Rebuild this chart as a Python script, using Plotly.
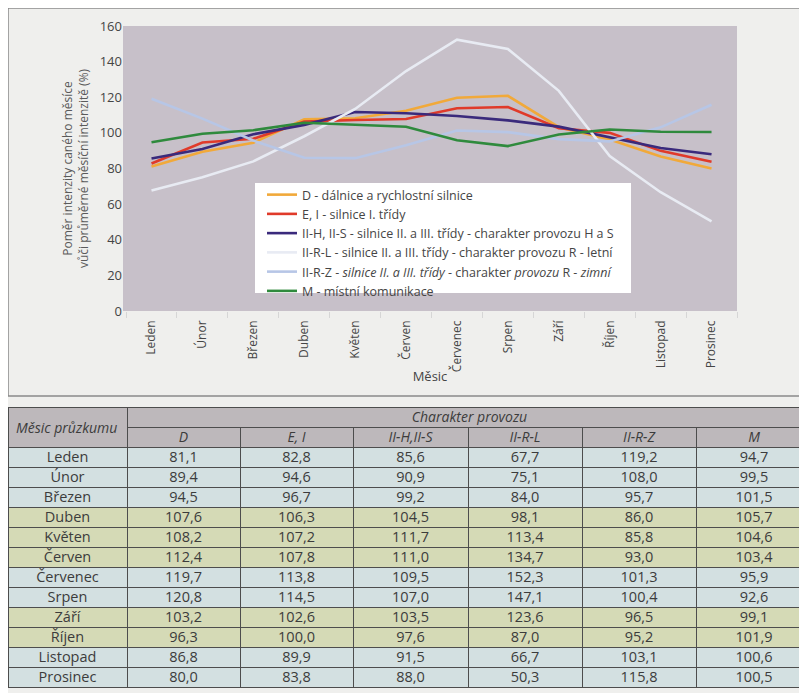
import plotly.graph_objects as go

W, H = 807, 693

months = ["Leden", "Únor", "Březen", "Duben", "Květen", "Červen",
          "Červenec", "Srpen", "Září", "Říjen", "Listopad", "Prosinec"]

D_vals = [81.1, 89.4, 94.5, 107.6, 108.2, 112.4, 119.7, 120.8, 103.2, 96.3, 86.8, 80.0]
EI_vals = [82.8, 94.6, 96.7, 106.3, 107.2, 107.8, 113.8, 114.5, 102.6, 100.0, 89.9, 83.8]
IIHS_vals = [85.6, 90.9, 99.2, 104.5, 111.7, 111.0, 109.5, 107.0, 103.5, 97.6, 91.5, 88.0]
IIRL_vals = [67.7, 75.1, 84.0, 98.1, 113.4, 134.7, 152.3, 147.1, 123.6, 87.0, 66.7, 50.3]
IIRZ_vals = [119.2, 108.0, 95.7, 86.0, 85.8, 93.0, 101.3, 100.4, 96.5, 95.2, 103.1, 115.8]
M_vals = [94.7, 99.5, 101.5, 105.7, 104.6, 103.4, 95.9, 92.6, 99.1, 101.9, 100.6, 100.5]

legend_names = [
    "D - dálnice a rychlostní silnice",
    "E, I - silnice I. třídy",
    "II-H, II-S - silnice II. a III. třídy - charakter provozu H a S",
    "II-R-L - silnice II. a III. třídy - charakter provozu R - letní",
    "II-R-Z - <i>silnice II. a III. třídy</i> - charakter <i>provozu</i> R - <i>zimní</i>",
    "M - místní komunikace",
]
table_headers = ["D", "E, I", "II-H,II-S", "II-R-L", "II-R-Z", "M"]
table_group_title = "Charakter provozu"
table_first_col_title = "Měsic průzkumu"
y_ticks = [0, 20, 40, 60, 80, 100, 120, 140, 160]

series = [D_vals, EI_vals, IIHS_vals, IIRL_vals, IIRZ_vals, M_vals]
colors = ["#f1a93a", "#e03a2a", "#3a2a7c", "#e8ebf3", "#b7c6e6", "#2f8a3d"]

FONT = "Open Sans"
TXT = "#454545"
NBSP = "\u00a0"
OX, OY = 8, 8  # page body margin offset

def fx(px):
    return min(max((px - OX) / W, 0.0), 1.0)

def fy(py):
    return min(max(1 - (py - OY) / H, 0.0), 1.0)

def nb(s):
    return s.replace(" ", NBSP)

def fmt(v):
    return f"{v:.1f}".replace(".", ",")

fig = go.Figure()

for vals, name, col in zip(series, legend_names, colors):
    fig.add_trace(go.Scatter(x=months, y=vals, mode="lines", name=name,
                             line=dict(color=col, width=2.6)))

# ---------------- table ----------------
row_blue = "#d3e0e1"
row_green = "#d5dab6"
row_pattern = ["b", "b", "b", "g", "g", "g", "b", "b", "g", "g", "b", "b"]
row_fill = [row_blue if p == "b" else row_green for p in row_pattern]
head_fill = "#bdb8bb"
line_col = "#4d4d4d"
clear = "rgba(0,0,0,0)"

tab_top, tab_h1, tab_h2, tab_bottom = 407, 427, 447, 687
col_edges = [8, 127, 240, 353, 468, 582, 696, 812]
widths = [col_edges[i + 1] - col_edges[i] for i in range(1, 7)]
SHIFT = 4  # text layer lifted so text sits centred in 20 px rows
cell_font = dict(family=FONT, size=14.5, color="#3c3c3c")
head_font = dict(family=FONT, size=14, color="#3c3c3c", style="italic")

def grid_and_text(xa, xb, ytop, ybot, header_vals, header_h, cell_vals, fills, colw=None):
    # cell rectangles (fills + borders)
    fig.add_trace(go.Table(
        domain=dict(x=[fx(xa), fx(xb)], y=[fy(ybot), fy(ytop)]),
        columnwidth=colw,
        header=dict(values=[""] * len(header_vals), height=header_h, fill_color=head_fill,
                    line=dict(color=line_col, width=1)),
        cells=dict(values=[([""] * len(c)) for c in cell_vals],
                   height=20, fill_color=fills,
                   line=dict(color=line_col, width=1)),
    ))
    # text layer
    fig.add_trace(go.Table(
        domain=dict(x=[fx(xa), fx(xb)], y=[fy(ybot - SHIFT), fy(ytop - SHIFT)]),
        columnwidth=colw,
        header=dict(values=header_vals, height=header_h, fill_color=clear,
                    line=dict(color=clear, width=0), align="center", font=head_font),
        cells=dict(values=cell_vals, height=20, fill_color=clear,
                   line=dict(color=clear, width=0), align="center", font=cell_font),
    ))

# left column (month names)
grid_and_text(col_edges[0], col_edges[1], tab_top, tab_bottom + 3,
              [""], 40, [months], [row_fill])
# merged group header
fig.add_trace(go.Table(
    domain=dict(x=[fx(col_edges[1]), fx(col_edges[-1])], y=[fy(tab_h1 + 2), fy(tab_top)]),
    header=dict(values=[""], height=20, fill_color=head_fill,
                line=dict(color=line_col, width=1)),
    cells=dict(values=[[]], height=0),
))
fig.add_trace(go.Table(
    domain=dict(x=[fx(col_edges[1]), fx(col_edges[-1])], y=[fy(tab_h1 + 2 - SHIFT), fy(tab_top - SHIFT)]),
    header=dict(values=[nb(table_group_title)], height=20, fill_color=clear,
                line=dict(color=clear, width=0), align="center", font=head_font),
    cells=dict(values=[[]], height=0),
))
# value columns
grid_and_text(col_edges[1], col_edges[-1], tab_h1, tab_bottom + 3,
              [nb(h) for h in table_headers], 20,
              [[fmt(v) for v in s] for s in series], [row_fill] * 6, colw=widths)

fig.add_annotation(text=f"<i>{table_first_col_title}</i>", x=fx(66), y=fy(427),
                   xref="paper", yref="paper", xanchor="center", yanchor="middle",
                   showarrow=False, font=dict(family=FONT, size=14, color="#3c3c3c"))

fig.update_layout(
    template="none",
    width=W, height=H,
    margin=dict(l=0, r=0, t=0, b=0, pad=0),
    paper_bgcolor="#efefed",
    plot_bgcolor="#c7c0c9",
    font=dict(family=FONT, size=13, color=TXT),
    showlegend=True,
    legend=dict(x=fx(262), y=fy(180), xanchor="left", yanchor="top",
                bgcolor=clear, borderwidth=0,
                font=dict(family=FONT, size=12.5, color=TXT),
                tracegroupgap=0, itemwidth=30),
    xaxis=dict(domain=[fx(123), fx(737)], type="category", range=[-0.56, 11.5],
               tickangle=-90, automargin=False,
               showgrid=False, zeroline=False, showline=False,
               ticks="outside", tickson="boundaries", ticklen=6, tickcolor="#d6d6d6",
               ticklabelstandoff=6,
               tickfont=dict(family=FONT, size=12, color=TXT),
               title=dict(text="Měsic", font=dict(family=FONT, size=13, color=TXT), standoff=0)),
    yaxis=dict(domain=[fy(311), fy(26)], range=[0, 160], tickvals=y_ticks, automargin=False,
               showgrid=False, zeroline=False, showline=False, ticks="",
               tickfont=dict(family=FONT, size=13, color=TXT),
               title=dict(text="Poměr intenzity caného měsíce<br>vůči průměrné měsíční intenzitě (%)",
                          font=dict(family=FONT, size=12, color="#5a5a5a"), standoff=8)),
    shapes=[
        dict(type="rect", xref="paper", yref="paper", x0=fx(8), x1=1.0, y0=fy(396), y1=1.0,
             line=dict(color="#8a8a8a", width=1.5), layer="below"),
        dict(type="rect", xref="paper", yref="paper", x0=fx(255), x1=fx(631), y0=fy(293), y1=fy(183),
             fillcolor="#ffffff", line=dict(width=0), layer="above"),
    ],
)

fig.write_html("out.html")
